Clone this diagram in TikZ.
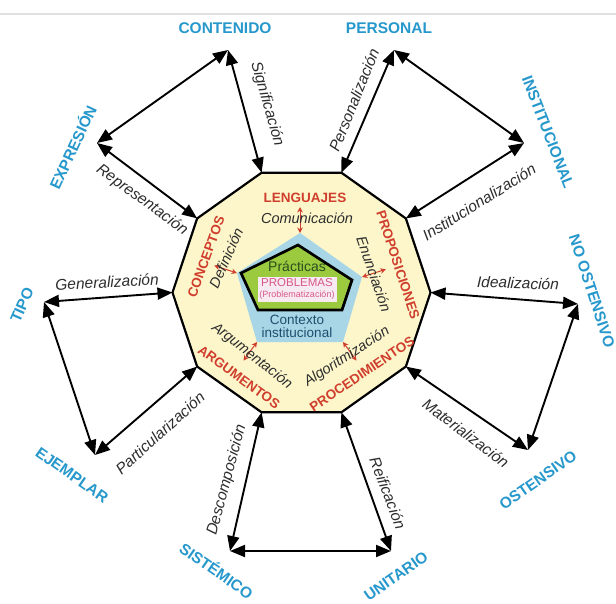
\documentclass[tikz,border=0pt]{standalone}
\usepackage{fontspec}
\setmainfont{Liberation Sans}
\usetikzlibrary{arrows.meta,calc}
\definecolor{cblue}{RGB}{38,152,204}
\definecolor{cred}{RGB}{208,62,45}
\definecolor{cyel}{RGB}{252,246,202}
\definecolor{clblue}{RGB}{168,214,230}
\definecolor{cgreen}{RGB}{156,202,62}
\definecolor{cgray}{RGB}{45,45,45}
\definecolor{cpink}{RGB}{216,88,140}
\definecolor{cpinkbg}{RGB}{247,234,240}
\definecolor{cteal}{RGB}{30,78,110}
\definecolor{cdgreen}{RGB}{40,78,30}
\begin{document}
\begin{tikzpicture}[x=1pt,y=-1pt,
  arr/.style={line width=1.9pt,{Triangle[length=15pt,width=12pt]}-{Triangle[length=15pt,width=12pt]}},
  rarr/.style={draw=cred,line width=1pt,{Stealth[length=5.5pt,width=5.5pt]}-{Stealth[length=5.5pt,width=5.5pt]}},
  cat/.style={font=\fontsize{15.5}{16}\selectfont\bfseries,text=cblue,inner sep=0pt},
  rel/.style={font=\fontsize{15.5}{16}\selectfont\itshape,text=cgray,inner sep=0pt},
  comp/.style={font=\fontsize{13.5}{14}\selectfont\bfseries,text=cred,inner sep=0pt},
  proc/.style={font=\fontsize{14.5}{15}\selectfont\itshape,text=cgray,inner sep=0pt},
  inner/.style={inner sep=0pt}]
\useasboundingbox[fill=white] (0,0) rectangle (616,603);
\draw[line width=1.5pt,black!12] (0,14) -- (616,14);
% decagon
\foreach \a in {0,36,...,324}
  \coordinate (v\a) at ({301.5+129*cos(\a)},{292.5+126*sin(\a)});
\draw[line width=2.2pt,fill=cyel,line join=miter]
  (v0)--(v36)--(v72)--(v108)--(v144)--(v180)--(v216)--(v252)--(v288)--(v324)--cycle;
% pentagons
\coordinate (bT) at (300,233); \coordinate (bR) at (362,277);
\coordinate (bBR) at (343,342); \coordinate (bBL) at (257,342);
\coordinate (bL) at (237,273);
\fill[clblue] (bT)--(bR)--(bBR)--(bBL)--(bL)--cycle;
\draw[line width=2.7pt,fill=cgreen,line join=miter]
  (298,245)--(352,280)--(342,310)--(258,310)--(241,273)--cycle;
\fill[cpinkbg] (258,277) rectangle (337,302);
\node[inner,font=\fontsize{14}{15}\selectfont,text=cdgreen] (prac) at (297,266) {Prácticas};
\node[inner,font=\fontsize{11.5}{12}\selectfont,text=cpink] (prob) at (297,283) {PROBLEMAS};
\node[inner,font=\fontsize{9}{10}\selectfont,text=cpink] (probz) at (297,295) {(Problematización)};
\node[inner,font=\fontsize{13.5}{14}\selectfont,text=cteal] (ctx1) at (297,320) {Contexto};
\node[inner,font=\fontsize{13.5}{14}\selectfont,text=cteal] (ctx2) at (297,333) {institucional};
% red arrows
\coordinate (rT) at (300,207);
\coordinate (rL) at ($(bL)+(198:24)$);
\coordinate (rR) at ($(bR)+(342:25)$);
\coordinate (rBL) at ($(bBL)+(126:23)$);
\coordinate (rBR) at ($(bBR)+(54:23)$);
\draw[rarr] (bT) -- (rT);
\draw[rarr] (bL) -- (rL);
\draw[rarr] (bR) -- (rR);
\draw[rarr] (bBL) -- (rBL);
\draw[rarr] (bBR) -- (rBR);
% component labels
\node[comp] (leng) at (305,198) {LENGUAJES};
\node[comp,rotate=70] (conc) at (206,257) {CONCEPTOS};
\node[comp,rotate=-72] (prop) at (398,265) {PROPOSICIONES};
\node[comp,rotate=-36] (argu) at (239,377) {ARGUMENTOS};
\node[comp,rotate=34] (proc) at (362,374) {PROCEDIMIENTOS};
\node[proc] (comu) at (307,218) {Comunicación};
\node[proc,rotate=66] (defi) at (226,258) {Definición};
\node[proc,rotate=-71] (enun) at (374,274) {Enunciación};
\node[proc,rotate=-38] (argm) at (252,356) {Argumentación};
\node[proc,rotate=33] (algo) at (347,357) {Algoritmización};
% outer points
\coordinate (Pc) at (228,50);
\coordinate (Pe) at (97,143);
\coordinate (Pp) at (394,50);
\coordinate (Pi) at (524,143);
\coordinate (Pt) at (44,302);
\coordinate (Pj) at (95,455);
\coordinate (Pn) at (578,304);
\coordinate (Po) at (528,450);
\coordinate (Ps) at (230,551);
\coordinate (Pu) at (391,551);
\draw[arr] (Pe) -- (Pc);
\draw[arr] (Pc) -- (v252);
\draw[arr] (Pe) -- (v216);
\draw[arr] (Pp) -- (v288);
\draw[arr] (Pp) -- (Pi);
\draw[arr] (Pi) -- (v324);
\draw[arr] (Pt) -- (v180);
\draw[arr] (Pt) -- (Pj);
\draw[arr] (Pj) -- (v144);
\draw[arr] (Pn) -- (v0);
\draw[arr] (Pn) -- (Po);
\draw[arr] (Po) -- (v36);
\draw[arr] (Ps) -- (v108);
\draw[arr] (Ps) -- (Pu);
\draw[arr] (Pu) -- (v72);
% category labels
\node[cat] (lc) at (225,28) {CONTENIDO};
\node[cat] (lp) at (389,28) {PERSONAL};
\node[cat,rotate=65] (le) at (72,147) {EXPRESIÓN};
\node[cat,rotate=-69] (li) at (548,132) {INSTITUCIONAL};
\node[cat,rotate=66] (lt) at (22,305) {TIPO};
\node[cat,rotate=-72] (ln) at (592,291) {NO OSTENSIVO};
\node[cat,rotate=-35] (lj) at (72,475) {EJEMPLAR};
\node[cat,rotate=35] (lo) at (538,480) {OSTENSIVO};
\node[cat,rotate=-35] (ls) at (217,570) {SISTÉMICO};
\node[cat,rotate=35] (lu) at (396,576) {UNITARIO};
% relation labels
\node[rel,rotate=-74] (tsig) at (267,104) {Significación};
\node[rel,rotate=68] (tper) at (354,100) {Personalización};
\node[rel,rotate=-36] (trep) at (142,200) {Representación};
\node[rel,rotate=32] (tins) at (479,202) {Institucionalización};
\node[rel,rotate=3] (tgen) at (107,282) {Generalización};
\node[rel,rotate=-2] (tide) at (518,283) {Idealización};
\node[rel,rotate=42] (tpar) at (160,433) {Particularización};
\node[rel,rotate=-37] (tmat) at (466,433) {Materialización};
\node[rel,rotate=75] (tdes) at (227,480) {Descomposición};
\node[rel,rotate=-69] (trei) at (388,493) {Reificación};
\end{tikzpicture}
\end{document}
